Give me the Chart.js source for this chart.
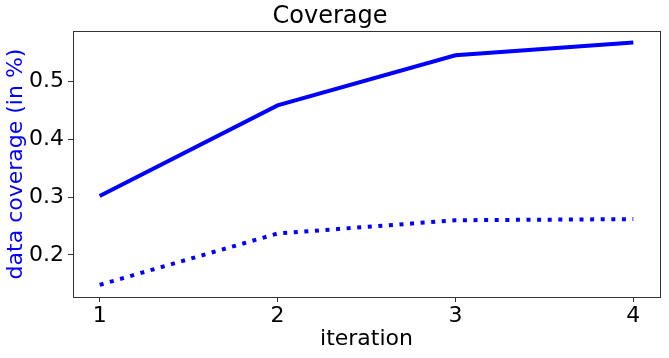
<!DOCTYPE html>
<html>
<head>
<meta charset="utf-8">
<script src="https://cdn.jsdelivr.net/npm/chart.js@4.4.1/dist/chart.umd.min.js"></script>
<style>
  html, body { margin: 0; padding: 0; background: #fff; }
  #wrap { width: 669px; height: 358px; }
</style>
</head>
<body>
<div id="wrap"><canvas id="c" width="669" height="358"></canvas></div>
<script>
const iterations = [1, 2, 3, 4];
const coverageSolid = [0.302, 0.459, 0.546, 0.568];
const coverageDotted = [0.148, 0.237, 0.260, 0.262];
const yTicks = [0.2, 0.3, 0.4, 0.5];
const xTicks = [1, 2, 3, 4];

const FONT = "'DejaVu Sans', sans-serif";

const framePlugin = {
  id: 'frame',
  afterDraw(chart) {
    const a = chart.chartArea, ctx = chart.ctx;
    ctx.save();
    ctx.strokeStyle = '#333';
    ctx.lineWidth = 1;
    ctx.strokeRect(Math.round(a.left) + 0.5, Math.round(a.top) + 0.5,
                   Math.round(a.right - a.left), Math.round(a.bottom - a.top));
    ctx.restore();
  }
};

new Chart(document.getElementById('c'), {
  type: 'line',
  data: {
    datasets: [
      {
        data: iterations.map((x, i) => ({ x, y: coverageSolid[i] })),
        borderColor: '#0000ff', borderWidth: 4, pointRadius: 0, tension: 0,
        borderCapStyle: 'butt', fill: false
      },
      {
        data: iterations.map((x, i) => ({ x, y: coverageDotted[i] })),
        borderColor: '#0000ff', borderWidth: 4, pointRadius: 0, tension: 0,
        borderDash: [4, 6.6], borderCapStyle: 'butt', fill: false
      }
    ]
  },
  options: {
    responsive: false,
    animation: false,
    devicePixelRatio: 1,
    layout: { padding: { left: 0, right: 9, top: 0, bottom: 0 } },
    plugins: {
      legend: { display: false },
      tooltip: { enabled: false },
      title: {
        display: true, text: 'Coverage', color: '#000',
        font: { family: FONT, size: 24, weight: 'normal', lineHeight: 1.0 },
        padding: { top: 5, bottom: 2 }
      }
    },
    scales: {
      x: {
        type: 'linear', min: 0.85, max: 4.15,
        afterBuildTicks(s) { s.ticks = xTicks.map(v => ({ value: v })); },
        afterFit(s) { s.height = 61; },
        ticks: {
          color: '#000', font: { family: FONT, size: 22 }, padding: 1,
          maxRotation: 0, callback: v => String(v)
        },
        grid: { display: true, drawOnChartArea: false, drawTicks: true, tickLength: 5, color: '#333' },
        border: { display: true, color: '#333' },
        title: {
          display: true, text: 'iteration', color: '#000',
          font: { family: FONT, size: 22 }, padding: { top: 0, bottom: 6 }
        }
      },
      y: {
        type: 'linear', min: 0.127, max: 0.588,
        afterBuildTicks(s) { s.ticks = yTicks.map(v => ({ value: v })); },
        afterFit(s) { s.width = 73; },
        ticks: {
          color: '#000', font: { family: FONT, size: 22 }, padding: 4,
          callback: v => v.toFixed(1)
        },
        grid: { display: true, drawOnChartArea: false, drawTicks: true, tickLength: 5, color: '#333' },
        border: { display: true, color: '#333' },
        title: {
          display: true, text: 'data coverage (in %)', color: '#0000ff',
          font: { family: FONT, size: 22 }, padding: { top: 3, bottom: 0 }
        }
      }
    }
  },
  plugins: [framePlugin]
});
</script>
</body>
</html>
